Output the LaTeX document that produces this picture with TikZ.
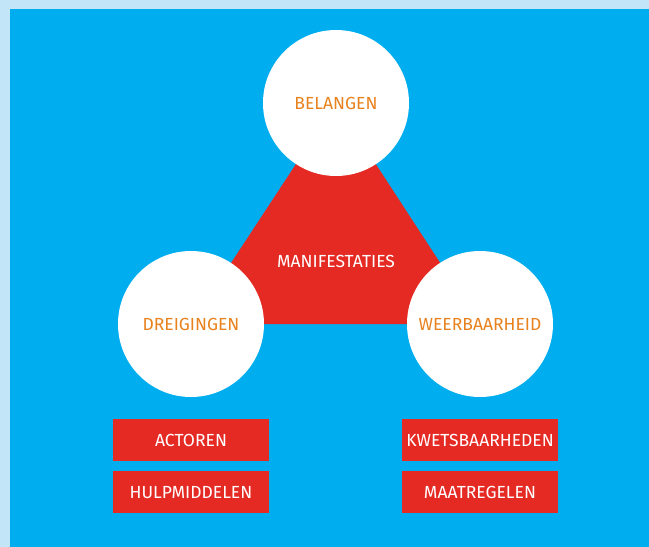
\documentclass[tikz,border=0pt]{standalone}
\usepackage{fontspec}
\setmainfont{Fira Sans}
\usetikzlibrary{positioning,backgrounds}
\definecolor{pale}{HTML}{C2E6F7}
\definecolor{sky}{HTML}{00AEEF}
\definecolor{alarm}{HTML}{E52A24}
\definecolor{amber}{HTML}{E8821E}
\tikzset{every node/.style={font=\fontsize{17.5}{20}\selectfont},
  pillar/.style={circle,fill=white,text=amber,minimum size=146pt,inner sep=0pt},
  tag/.style={fill=alarm,text=white,minimum width=156pt,minimum height=42pt,inner sep=0pt}}

\begin{document}
\begin{tikzpicture}[x=1pt,y=-1pt]
\useasboundingbox (0,0) rectangle (649,547);
% three pillars
\node[pillar] (belangen) at (336,103) {BELANGEN};
\node[pillar] (dreigingen) at (191,324) {DREIGINGEN};
\node[pillar] (weerbaarheid) at (480,324) {WEERBAARHEID};
\node[text=white] (manifestaties) at (336,261) {MANIFESTATIES};
% boxes
\node[tag] (actoren) at (191,440) {ACTOREN};
\node[tag,below=10pt of actoren] (hulpmiddelen) {HULPMIDDELEN};
\node[tag] (kwetsbaarheden) at (480,440) {KWETSBAARHEDEN};
\node[tag,below=10pt of kwetsbaarheden] (maatregelen) {MAATREGELEN};
\begin{scope}[on background layer]
\fill[pale] (0,0) rectangle (649,547);
\fill[sky] (10,9) rectangle (649,547);
\fill[alarm] (belangen.center)--(dreigingen.center)--(weerbaarheid.center)--cycle;
\end{scope}
\end{tikzpicture}
\end{document}
